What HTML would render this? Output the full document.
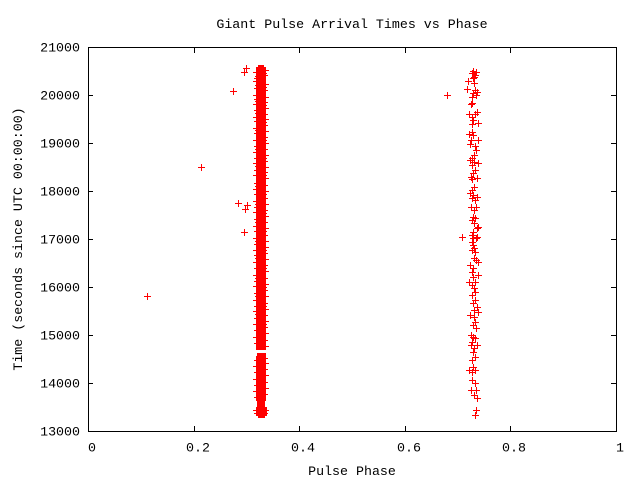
<!DOCTYPE html>
<html><head><meta charset="utf-8"><style>
html,body{margin:0;padding:0;background:#fff;}
svg{display:block;}
text{font-family:"Liberation Mono","DejaVu Sans Mono",monospace;font-size:13.3px;fill:#000;}
</style></head><body>
<svg width="640" height="480" viewBox="0 0 640 480" xmlns="http://www.w3.org/2000/svg" shape-rendering="crispEdges">
<rect width="640" height="480" fill="#fff"/>
<defs><path id="p" d="M-3 0.5h7M0.5-3v7" stroke="#f00" stroke-width="1" fill="none"/></defs>

<text x="352" y="28" text-anchor="middle">Giant Pulse Arrival Times vs Phase</text>
<text x="352" y="475" text-anchor="middle">Pulse Phase</text>
<text transform="translate(22,239) rotate(-90)" text-anchor="middle">Time (seconds since UTC 00:00:00)</text>

<g text-anchor="end">
<text x="80" y="51.5">21000</text>
<text x="80" y="99.5">20000</text>
<text x="80" y="147.5">19000</text>
<text x="80" y="195.5">18000</text>
<text x="80" y="243.5">17000</text>
<text x="80" y="291.5">16000</text>
<text x="80" y="339.5">15000</text>
<text x="80" y="387.5">14000</text>
<text x="80" y="435.5">13000</text>
</g>
<g text-anchor="middle">
<text x="92" y="451.5">0</text>
<text x="198" y="451.5">0.2</text>
<text x="303" y="451.5">0.4</text>
<text x="409" y="451.5">0.6</text>
<text x="514" y="451.5">0.8</text>
<text x="620" y="451.5">1</text>
</g>

<g stroke="#000" stroke-width="1" fill="none">
<rect x="88.5" y="47.5" width="528" height="384"/>
<path d="M88 95.5h5M88 143.5h5M88 191.5h5M88 239.5h5M88 287.5h5M88 335.5h5M88 383.5h5M611 95.5h5M611 143.5h5M611 191.5h5M611 239.5h5M611 287.5h5M611 335.5h5M611 383.5h5M194.5 431v-5M299.5 431v-5M405.5 431v-5M510.5 431v-5M194.5 48v5M299.5 48v5M405.5 48v5M510.5 48v5"/>
</g>

<g fill="#f00">
<rect x="258" y="65" width="6" height="2"/>
<rect x="256" y="67" width="10" height="3"/>
<rect x="256" y="70" width="10" height="280"/>
<rect x="257" y="353" width="9" height="3"/>
<rect x="256" y="356" width="10" height="45"/>
<rect x="257" y="401" width="8" height="6"/>
<rect x="256" y="407" width="11" height="9"/>
<rect x="258" y="416" width="7" height="2"/>
</g>
<path stroke="#f00" stroke-width="1" fill="none" d="M253 72.5h3M255 76.5h1M254 78.5h2M253 81.5h3M255 85.5h1M254 88.5h2M253 95.5h3M254 99.5h2M255 101.5h1M253 104.5h3M254 110.5h2M255 113.5h1M253 117.5h3M254 121.5h2M253 128.5h3M255 130.5h1M254 133.5h2M253 140.5h3M254 146.5h2M255 149.5h1M253 152.5h3M254 158.5h2M253 163.5h3M255 166.5h1M254 170.5h2M253 175.5h3M254 183.5h2M255 186.5h1M253 189.5h3M254 194.5h2M253 201.5h3M255 204.5h1M254 207.5h2M253 212.5h3M254 219.5h2M255 222.5h1M253 226.5h3M254 231.5h2M253 238.5h3M255 241.5h1M254 244.5h2M253 250.5h3M254 255.5h2M255 258.5h1M253 262.5h3M254 268.5h2M253 275.5h3M255 278.5h1M254 281.5h2M253 286.5h3M254 293.5h2M255 296.5h1M253 300.5h3M254 306.5h2M253 311.5h3M255 314.5h1M254 318.5h2M253 324.5h3M254 330.5h2M253 337.5h3M254 343.5h2M254 360.5h2M253 366.5h3M254 372.5h2M253 379.5h3M254 385.5h2M253 391.5h3M254 397.5h2M253 410.5h3M254 413.5h2M266 70.5h3M266 73.5h1M266 75.5h2M266 84.5h3M266 87.5h1M266 90.5h2M266 97.5h3M266 102.5h2M266 105.5h1M266 108.5h3M266 114.5h2M266 119.5h3M266 122.5h1M266 125.5h2M266 131.5h3M266 137.5h2M266 140.5h1M266 143.5h3M266 149.5h2M266 155.5h3M266 158.5h1M266 161.5h2M266 167.5h3M266 172.5h2M266 175.5h1M266 178.5h3M266 185.5h2M266 191.5h3M266 194.5h1M266 198.5h2M266 204.5h3M266 210.5h2M266 213.5h1M266 216.5h3M266 222.5h2M266 228.5h3M266 231.5h1M266 235.5h2M266 241.5h3M266 247.5h3M266 250.5h1M266 253.5h2M266 259.5h3M266 265.5h2M266 268.5h1M266 271.5h3M266 278.5h2M266 284.5h3M266 287.5h1M266 290.5h2M266 296.5h3M266 303.5h2M266 306.5h1M266 309.5h3M266 315.5h2M266 321.5h3M266 324.5h1M266 327.5h2M266 333.5h3M266 340.5h2M266 346.5h3M266 358.5h2M266 363.5h3M266 369.5h2M266 375.5h3M266 382.5h2M266 388.5h3M266 394.5h2M267 410.5h2M267 413.5h1"/>

<g>
<use href="#p" x="147" y="296"/>
<use href="#p" x="201" y="167"/>
<use href="#p" x="233" y="91"/>
<use href="#p" x="246" y="68"/>
<use href="#p" x="244" y="72"/>
<use href="#p" x="238" y="203"/>
<use href="#p" x="247" y="205"/>
<use href="#p" x="245" y="209"/>
<use href="#p" x="244" y="232"/>
<use href="#p" x="447" y="95"/>
<use href="#p" x="462" y="237"/>
<use href="#p" x="473" y="71"/>
<use href="#p" x="476" y="72"/>
<use href="#p" x="472" y="73"/>
<use href="#p" x="475" y="75"/>
<use href="#p" x="474" y="77"/>
<use href="#p" x="473" y="78"/>
<use href="#p" x="468" y="81"/>
<use href="#p" x="474" y="83"/>
<use href="#p" x="467" y="89"/>
<use href="#p" x="475" y="90"/>
<use href="#p" x="477" y="92"/>
<use href="#p" x="473" y="93"/>
<use href="#p" x="476" y="95"/>
<use href="#p" x="472" y="97"/>
<use href="#p" x="472" y="103"/>
<use href="#p" x="471" y="104"/>
<use href="#p" x="477" y="112"/>
<use href="#p" x="475" y="114"/>
<use href="#p" x="469" y="114"/>
<use href="#p" x="472" y="117"/>
<use href="#p" x="473" y="120"/>
<use href="#p" x="478" y="123"/>
<use href="#p" x="472" y="124"/>
<use href="#p" x="472" y="132"/>
<use href="#p" x="469" y="134"/>
<use href="#p" x="473" y="135"/>
<use href="#p" x="471" y="140"/>
<use href="#p" x="478" y="140"/>
<use href="#p" x="470" y="144"/>
<use href="#p" x="475" y="146"/>
<use href="#p" x="476" y="150"/>
<use href="#p" x="472" y="158"/>
<use href="#p" x="470" y="160"/>
<use href="#p" x="474" y="162"/>
<use href="#p" x="478" y="163"/>
<use href="#p" x="472" y="165"/>
<use href="#p" x="475" y="170"/>
<use href="#p" x="473" y="173"/>
<use href="#p" x="471" y="177"/>
<use href="#p" x="477" y="178"/>
<use href="#p" x="472" y="179"/>
<use href="#p" x="474" y="187"/>
<use href="#p" x="472" y="190"/>
<use href="#p" x="470" y="193"/>
<use href="#p" x="473" y="195"/>
<use href="#p" x="477" y="197"/>
<use href="#p" x="472" y="198"/>
<use href="#p" x="475" y="200"/>
<use href="#p" x="471" y="207"/>
<use href="#p" x="476" y="207"/>
<use href="#p" x="474" y="210"/>
<use href="#p" x="473" y="217"/>
<use href="#p" x="475" y="218"/>
<use href="#p" x="472" y="220"/>
<use href="#p" x="474" y="223"/>
<use href="#p" x="478" y="227"/>
<use href="#p" x="477" y="228"/>
<use href="#p" x="473" y="232"/>
<use href="#p" x="472" y="235"/>
<use href="#p" x="477" y="237"/>
<use href="#p" x="473" y="238"/>
<use href="#p" x="476" y="238"/>
<use href="#p" x="472" y="242"/>
<use href="#p" x="473" y="245"/>
<use href="#p" x="474" y="248"/>
<use href="#p" x="472" y="250"/>
<use href="#p" x="475" y="252"/>
<use href="#p" x="476" y="260"/>
<use href="#p" x="478" y="262"/>
<use href="#p" x="470" y="265"/>
<use href="#p" x="473" y="268"/>
<use href="#p" x="472" y="272"/>
<use href="#p" x="478" y="275"/>
<use href="#p" x="473" y="277"/>
<use href="#p" x="469" y="282"/>
<use href="#p" x="475" y="282"/>
<use href="#p" x="472" y="285"/>
<use href="#p" x="474" y="288"/>
<use href="#p" x="475" y="292"/>
<use href="#p" x="472" y="295"/>
<use href="#p" x="475" y="300"/>
<use href="#p" x="473" y="303"/>
<use href="#p" x="477" y="307"/>
<use href="#p" x="478" y="312"/>
<use href="#p" x="470" y="315"/>
<use href="#p" x="474" y="317"/>
<use href="#p" x="475" y="322"/>
<use href="#p" x="473" y="325"/>
<use href="#p" x="476" y="328"/>
<use href="#p" x="471" y="335"/>
<use href="#p" x="473" y="337"/>
<use href="#p" x="475" y="338"/>
<use href="#p" x="472" y="342"/>
<use href="#p" x="471" y="345"/>
<use href="#p" x="477" y="345"/>
<use href="#p" x="474" y="348"/>
<use href="#p" x="475" y="357"/>
<use href="#p" x="472" y="360"/>
<use href="#p" x="473" y="367"/>
<use href="#p" x="469" y="370"/>
<use href="#p" x="475" y="370"/>
<use href="#p" x="472" y="372"/>
<use href="#p" x="472" y="380"/>
<use href="#p" x="475" y="383"/>
<use href="#p" x="471" y="390"/>
<use href="#p" x="476" y="390"/>
<use href="#p" x="474" y="395"/>
<use href="#p" x="477" y="398"/>
<use href="#p" x="476" y="410"/>
<use href="#p" x="475" y="415"/>
<use href="#p" x="474" y="155"/>
<use href="#p" x="474" y="258"/>
<use href="#p" x="474" y="310"/>
<use href="#p" x="473" y="352"/>
</g>
</svg>
</body></html>
